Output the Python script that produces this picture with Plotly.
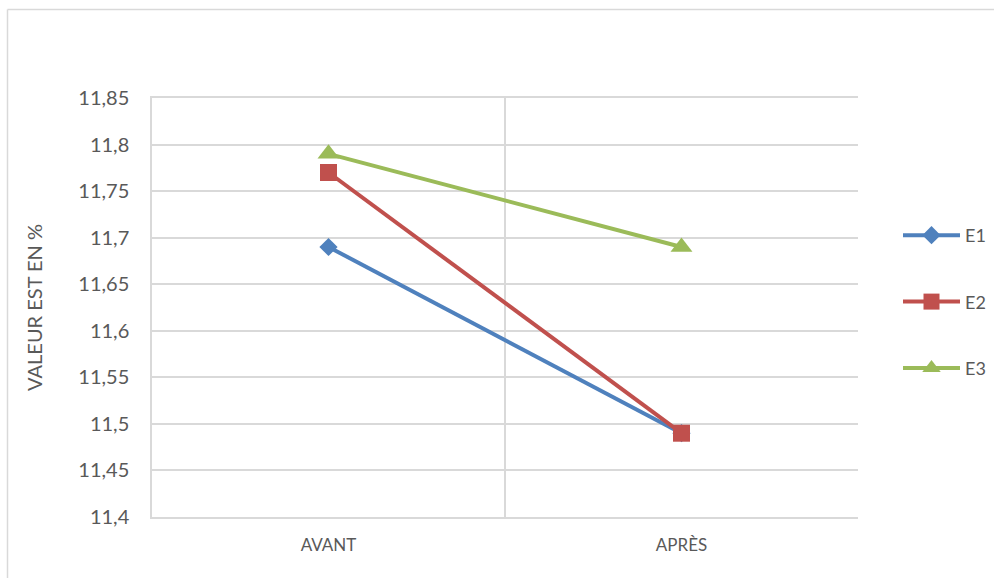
import plotly.graph_objects as go

# Categories and series values
categories = ["AVANT", "APRÈS"]
series_names = ["E1", "E2", "E3"]
e1_values = [11.69, 11.49]
e2_values = [11.77, 11.49]
e3_values = [11.79, 11.69]

y_ticks = [11.4, 11.45, 11.5, 11.55, 11.6, 11.65, 11.7, 11.75, 11.8, 11.85]
y_tick_labels = ["11,4", "11,45", "11,5", "11,55", "11,6", "11,65", "11,7", "11,75", "11,8", "11,85"]

colors = ["#4F81BD", "#C0504D", "#9BBB59"]
symbols = ["diamond", "square", "triangle-up"]
marker_sizes = [14, 17, 19]

W, H = 994, 578
L, R, T, B = 152, 136, 98, 61
PW, PH = W - L - R, H - T - B

fig = go.Figure()
for name, vals, col, sym, ms in zip(series_names, [e1_values, e2_values, e3_values], colors, symbols, marker_sizes):
    fig.add_trace(go.Scatter(
        x=categories, y=vals, name=name, mode="lines+markers",
        line=dict(color=col, width=4),
        marker=dict(symbol=sym, size=ms, color=col, line=dict(width=0)),
        legendgroup=name,
    ))

def px_x(p):
    return (p - L) / PW

def px_y(p):
    return (H - B - p) / PH

# outer frame (top and left edges)
frame = dict(type="line", xref="paper", yref="paper", line=dict(color="#D9D9D9", width=1.5), layer="below")
fig.add_shape(**frame, x0=px_x(7.5), x1=px_x(1000), y0=px_y(9.5), y1=px_y(9.5))
fig.add_shape(**frame, x0=px_x(7.5), x1=px_x(7.5), y0=px_y(9.5), y1=px_y(600))

fig.update_layout(
    width=W, height=H,
    margin=dict(l=L, r=R, t=T, b=B, autoexpand=False),
    paper_bgcolor="white", plot_bgcolor="white",
    font=dict(family="Lato, 'Open Sans', sans-serif", color="#595959"),
    showlegend=True,
    legend=dict(
        x=px_x(898), y=px_y(217), xanchor="left", yanchor="top",
        font=dict(size=18, color="#595959"),
        tracegroupgap=40,
        itemwidth=57,
        bgcolor="rgba(0,0,0,0)",
    ),
    xaxis=dict(
        type="category", range=[-0.5, 1.5],
        tickson="boundaries", ticks="", showgrid=True,
        gridcolor="#D9D9D9", gridwidth=1.5,
        showline=True, linecolor="#D9D9D9", linewidth=1.5, mirror=True,
        tickfont=dict(size=17, color="#595959"),
        ticklabelstandoff=12,
        zeroline=False,
    ),
    yaxis=dict(
        range=[11.4, 11.85], tickvals=y_ticks, ticktext=y_tick_labels,
        showgrid=True, gridcolor="#D9D9D9", gridwidth=1.5,
        showline=True, linecolor="#D9D9D9", linewidth=1.5,
        ticks="", tickfont=dict(size=20, color="#595959"),
        ticklabelstandoff=17,
        zeroline=False,
        title=dict(text="VALEUR EST EN %", font=dict(size=20, color="#595959"), standoff=30),
    ),
)

fig.write_html("out.html")
